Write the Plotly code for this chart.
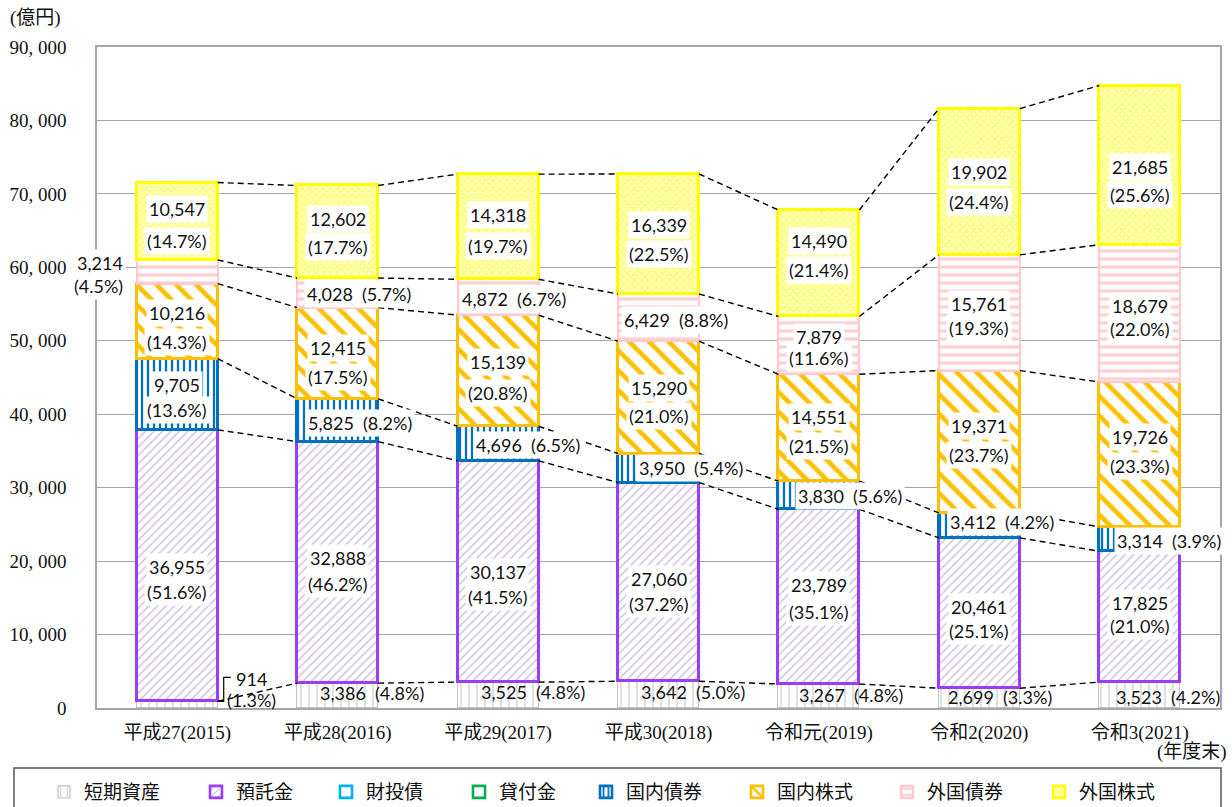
import plotly.graph_objects as go

# ---- data -------------------------------------------------------------
fiscal_years = ["平成27(2015)", "平成28(2016)", "平成29(2017)", "平成30(2018)",
                "令和元(2019)", "令和2(2020)", "令和3(2021)"]

short_term = [914, 3386, 3525, 3642, 3267, 2699, 3523]
deposits = [36955, 32888, 30137, 27060, 23789, 20461, 17825]
filp_bonds = [0, 0, 0, 0, 0, 0, 0]
loans = [0, 0, 0, 0, 0, 0, 0]
domestic_bonds = [9705, 5825, 4696, 3950, 3830, 3412, 3314]
domestic_stocks = [10216, 12415, 15139, 15290, 14551, 19371, 19726]
foreign_bonds = [3214, 4028, 4872, 6429, 7879, 15761, 18679]
foreign_stocks = [10547, 12602, 14318, 16339, 14490, 19902, 21685]

short_term_pct = [1.3, 4.8, 4.8, 5.0, 4.8, 3.3, 4.2]
deposits_pct = [51.6, 46.2, 41.5, 37.2, 35.1, 25.1, 21.0]
domestic_bonds_pct = [13.6, 8.2, 6.5, 5.4, 5.6, 4.2, 3.9]
domestic_stocks_pct = [14.3, 17.5, 20.8, 21.0, 21.5, 23.7, 23.3]
foreign_bonds_pct = [4.5, 5.7, 6.7, 8.8, 11.6, 19.3, 22.0]
foreign_stocks_pct = [14.7, 17.7, 19.7, 22.5, 21.4, 24.4, 25.6]

y_tick_values = [0, 10000, 20000, 30000, 40000, 50000, 60000, 70000, 80000, 90000]
y_tick_labels = ["0", "10, 000", "20, 000", "30, 000", "40, 000", "50, 000",
                 "60, 000", "70, 000", "80, 000", "90, 000"]

series = [
    ("短期資産", short_term, short_term_pct),
    ("預託金", deposits, deposits_pct),
    ("財投債", filp_bonds, None),
    ("貸付金", loans, None),
    ("国内債券", domestic_bonds, domestic_bonds_pct),
    ("国内株式", domestic_stocks, domestic_stocks_pct),
    ("外国債券", foreign_bonds, foreign_bonds_pct),
    ("外国株式", foreign_stocks, foreign_stocks_pct),
]

# ---- styling ----------------------------------------------------------
W, H = 1232, 807
ML, MR, MT, MB = 97, 12, 47, 99
PW, PH = W - ML - MR, H - MT - MB
BAR_W = 0.505


def paper_x(px):
    return (px - ML) / PW


def paper_y(py):
    return (H - MB - py) / PH


styles = {
    "短期資産": dict(line="#c4c4c4", lw=1.2, shape="|", fg="#c8c8c8", bg="white", size=8, sol=0.14),
    "預託金": dict(line="#9b3cf7", lw=2.6, shape="/", fg="#c6b9e6", bg="white", size=6, sol=0.22),
    "財投債": dict(line="#00b0f0", lw=2.6, shape="", fg="#00b0f0", bg="white", size=6, sol=0.3),
    "貸付金": dict(line="#00b050", lw=2.6, shape="", fg="#00b050", bg="white", size=6, sol=0.3),
    "国内債券": dict(line="#0070c0", lw=2.6, shape="|", fg="#0070c0", bg="white", size=6, sol=0.38),
    "国内株式": dict(line="#ffc000", lw=2.6, shape="\\", fg="#ffc000", bg="white", size=14, sol=0.33),
    "外国債券": dict(line="#ffc9cf", lw=2.4, shape="-", fg="#ffcfd4", bg="white", size=8, sol=0.4),
    "外国株式": dict(line="#ffff00", lw=2.6, shape="x", fg="#ffff66", bg="#ffffc4", size=5, sol=0.45),
}

# label placement: (mode, dx px, dy px downward from segment middle, line spacing px)
label_layout = {
    "外国株式": [("two", 0, 4, 32), ("two", 0, 1, 28), ("two", 0, 4, 31), ("two", 0, 6, 29),
              ("two", 0, -8, 29), ("two", 0, 5, 30), ("two", 0, 16, 28)],
    "外国債券": [("left", -11, 3, 23), ("one", 21, 1, 0), ("one", 16, 2, 0), ("one", 17, 2, 0),
              ("two", 0, 2.5, 21), ("two", 0, 3.5, 24), ("two", 0, 4, 23)],
    "国内株式": [("two", 0, 6, 29), ("two", 0, 9.5, 29), ("two", 0, 6.5, 31), ("two", 0, 5, 28),
              ("two", 0, 3.5, 29), ("two", 0, -1, 29), ("two", 0, -3, 29)],
    "国内債券": [("two", 0, 3, 25), ("one", 22, 3, 0), ("one", 30, 1, 0), ("one", 32, 0, 0),
              ("one", 31, 1, 0), ("one", 23, -3, 0), ("one", 29, 2, 0)],
    "預託金": [("two", 0, 13.5, 25), ("two", 0, 9, 26), ("two", 0, 13, 25), ("two", 0, 10, 25),
            ("two", 0, 2, 27), ("two", 0, 6, 24), ("two", 0, -2, 23)],
    "短期資産": [("callout", 74, -15, 21), ("one", 34, -3, 0), ("one", 35, -3, 0), ("one", 34, -3, 0),
             ("one", 32, -1, 0), ("one", 21, -1, 0), ("one", 28, 2, 0)],
}

label_font = dict(family="Lato, Noto Sans, sans-serif", size=18, color="#111111")
serif_cjk = "Liberation Serif, Noto Sans CJK JP, serif"
cjk = "Noto Sans CJK JP, sans-serif"

fig = go.Figure()
xs = list(range(len(fiscal_years)))

# stacked bars, each series in its own legend so entries sit where wanted
legend_text_px = [84, 236, 366, 499, 626, 777, 927, 1079]
for k, (name, vals, _) in enumerate(series):
    st = styles[name]
    lg = "legend" if k == 0 else f"legend{k + 1}"
    fig.add_trace(go.Bar(
        x=xs, y=vals, name=name, width=BAR_W, legend=lg,
        marker=dict(color=st["bg"], line=dict(color=st["line"], width=st["lw"]),
                    pattern=dict(shape=st["shape"], fgcolor=st["fg"], bgcolor=st["bg"],
                                 size=st["size"], solidity=st["sol"], fillmode="replace")),
        hoverinfo="skip",
    ))

# cumulative boundaries for connector lines
n = len(fiscal_years)
cum = [[0] * n]
for name, vals, _ in series:
    cum.append([cum[-1][i] + vals[i] for i in range(n)])
levels = [cum[1], cum[2], cum[5], cum[6], cum[7], cum[8]]
for lev in levels:
    lx, ly = [], []
    for i in range(n - 1):
        lx += [i + BAR_W / 2, i + 1 - BAR_W / 2, None]
        ly += [lev[i], lev[i + 1], None]
    fig.add_trace(go.Scatter(x=lx, y=ly, mode="lines", showlegend=False, hoverinfo="skip",
                             line=dict(color="#000000", width=1.4, dash="6px,4px")))

# data labels
for k, (name, vals, pcts) in enumerate(series):
    if pcts is None:
        continue
    for i in range(n):
        mid = cum[k][i] + vals[i] / 2
        mode, dx, dy, sp = label_layout[name][i]
        vtxt = f"{vals[i]:,}"
        ptxt = f"({pcts[i]:.1f}%)"
        common = dict(xref="x", yref="y", showarrow=False, yanchor="middle",
                      font=label_font, borderpad=2)
        if mode == "two":
            fig.add_annotation(x=i, y=mid, text=vtxt, xshift=dx, yshift=-(dy - sp / 2),
                               bgcolor="white", **common)
            fig.add_annotation(x=i, y=mid, text=ptxt, xshift=dx, yshift=-(dy + sp / 2),
                               bgcolor="white", **common)
        elif mode == "left":
            for txt, off in ((vtxt, -sp / 2), (ptxt, sp / 2)):
                fig.add_annotation(x=i - BAR_W / 2, y=mid, text=txt, xanchor="right", xshift=dx,
                                   yshift=-(dy + off), bgcolor="white", **common)
        elif mode == "callout":
            for txt, off in ((vtxt, -sp / 2), (ptxt, sp / 2)):
                fig.add_annotation(x=i, y=mid, text=txt, xshift=dx, yshift=-(dy + off),
                                   bgcolor="rgba(0,0,0,0)", **common)
            # small leader from the bar edge to the callout
            fig.add_shape(type="path", xref="x", yref="y", xsizemode="pixel", ysizemode="pixel",
                          xanchor=i + BAR_W / 2, yanchor=vals[i],
                          path="M 0,0 L 6,0 L 6,24 L 13,24",
                          line=dict(color="#000000", width=1.2))
        else:
            bg = "rgba(0,0,0,0)" if name == "短期資産" else "white"
            fig.add_annotation(x=i, y=mid, text=f"{vtxt}\u00a0\u00a0{ptxt}", xshift=dx,
                               yshift=-dy, bgcolor=bg, **common)

# unit captions
fig.add_annotation(xref="paper", yref="paper", x=paper_x(8), y=paper_y(18), xanchor="left",
                   yanchor="middle", text="(億円)", showarrow=False,
                   font=dict(family=serif_cjk, size=19, color="#111111"))
fig.add_annotation(xref="paper", yref="paper", x=paper_x(1229), y=paper_y(752), xanchor="right",
                   yanchor="middle", text="(年度末)", showarrow=False,
                   font=dict(family=serif_cjk, size=19, color="#111111"))

# legend frame
fig.add_shape(type="rect", xref="paper", yref="paper", x0=paper_x(14), x1=paper_x(1221),
              y0=paper_y(768), y1=paper_y(812), line=dict(color="#555555", width=1.5),
              fillcolor="rgba(0,0,0,0)", layer="above")

legend_layouts = {}
for k, tx in enumerate(legend_text_px):
    key = "legend" if k == 0 else f"legend{k + 1}"
    legend_layouts[key] = dict(
        orientation="h", x=paper_x(tx - 40), y=paper_y(792), xanchor="left", yanchor="middle",
        bgcolor="rgba(0,0,0,0)", borderwidth=0, itemwidth=30,
        font=dict(family=cjk, size=19, color="#111111"))

fig.update_layout(
    width=W, height=H, barmode="stack", bargap=0,
    margin=dict(l=ML, r=MR, t=MT, b=MB, autoexpand=False),
    paper_bgcolor="white", plot_bgcolor="white",
    xaxis=dict(range=[-0.5, n - 0.5], tickvals=xs, ticktext=fiscal_years, showgrid=False,
               showline=True, linecolor="#a6a6a6", linewidth=1.6, mirror=True, ticks="",
               zeroline=False, ticklabelstandoff=6,
               tickfont=dict(family=serif_cjk, size=19, color="#111111")),
    yaxis=dict(range=[0, 90000], tickvals=y_tick_values, ticktext=y_tick_labels,
               showgrid=True, gridcolor="#a6a6a6", gridwidth=1.3, showline=True,
               linecolor="#a6a6a6", linewidth=1.6, mirror=True, ticks="", zeroline=False,
               ticklabelstandoff=25,
               tickfont=dict(family=serif_cjk, size=19, color="#111111")),
    showlegend=True,
    **legend_layouts,
)

fig.write_html("out.html")
